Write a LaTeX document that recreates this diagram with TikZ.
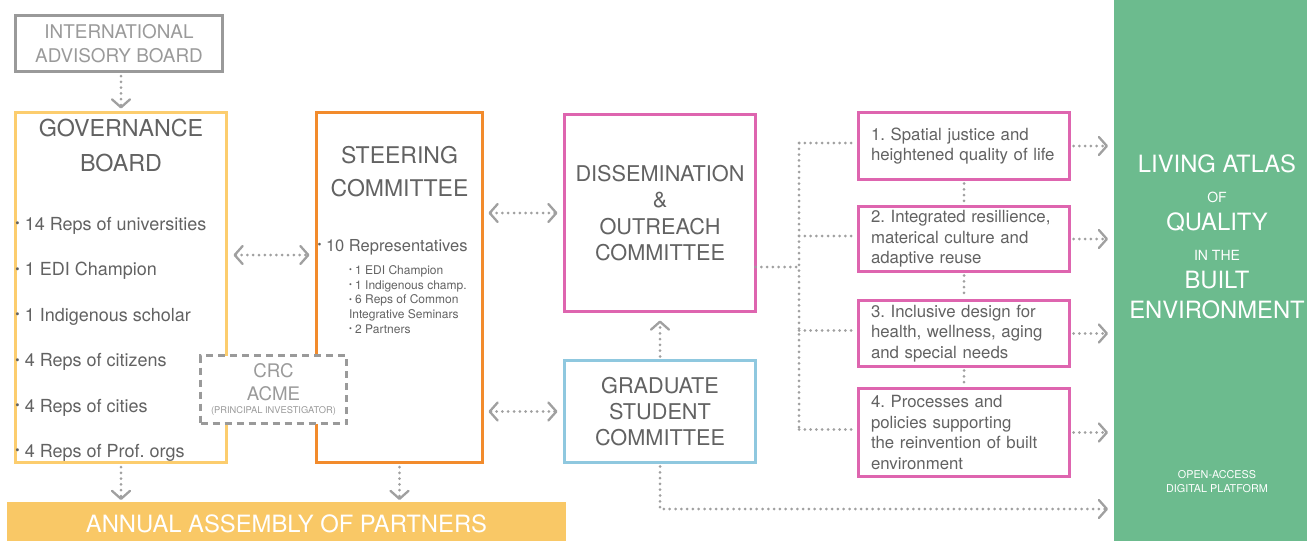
\documentclass[tikz,border=0pt]{standalone}
\usepackage{fontspec}
\setmainfont{TeX Gyre Heros}
\usetikzlibrary{arrows.meta}

\definecolor{txtgray}{HTML}{626262}
\definecolor{boardgray}{HTML}{9A9A9A}
\definecolor{dotgray}{HTML}{A0A0A0}
\definecolor{govyellow}{HTML}{FCCD6E}
\definecolor{assemblyyellow}{HTML}{F9C866}
\definecolor{steerorange}{HTML}{F28B2C}
\definecolor{dispink}{HTML}{DE65AF}
\definecolor{gradblue}{HTML}{8FC8DF}
\definecolor{atlasgreen}{HTML}{6CBB8E}

\newcommand{\fs}[2]{\fontsize{#1}{#2}\selectfont}
\newcommand{\blt}{\raisebox{.14em}{\scalebox{.68}{\textbullet}}\hspace{.28em}}
\frenchspacing

\begin{document}
\begin{tikzpicture}[x=1pt, y=-1pt]
      \tikzstyle{every node}=[outer sep=0pt, inner sep=0pt, text=txtgray]
      \tikzstyle{frame}=[draw, rectangle, line width=3pt]
      \tikzstyle{theme}=[frame, draw=dispink, text width=186pt, inner xsep=12.5pt, align=left, font=\fs{16.8}{20.5}]
      \tikzstyle{dots}=[draw=dotgray, line width=3pt, line cap=round, dash pattern=on 0pt off 5.8pt]
      \tikzset{>={Straight Barb[length=8pt, width=18pt, line width=2.3pt, round]}}
      \tikzstyle{arr}=[dots, ->]
      \tikzstyle{both}=[dots, <->, shorten <=7pt, shorten >=7pt]

      \useasboundingbox (0,0) rectangle (1307,541);

      % left column
      \path (119,43.5) node[frame, draw=boardgray, text=boardgray, minimum width=207pt, minimum height=56pt, align=center, font=\fs{18.9}{24}] (iab) {INTERNATIONAL\\ADVISORY BOARD};
      \path (121,287.5) node[frame, draw=govyellow, minimum width=211pt, minimum height=350pt] (gov) {};
      \path (399.5,287.5) node[frame, draw=steerorange, minimum width=166pt, minimum height=350pt] (steer) {};
      \path (286.5,523.5) node[fill=assemblyyellow, minimum width=559pt, minimum height=43pt, text=white, font=\fs{23.8}{24}] (aap) {ANNUAL ASSEMBLY OF PARTNERS};

      \path (121,145.5) node[align=center, font=\fs{23.3}{35}] (govtitle) {GOVERNANCE\\BOARD};
      \foreach \t [count=\i] in {14 Reps of universities, 1 EDI Champion, 1 Indigenous scholar, 4 Reps of citizens, 4 Reps of cities, 4 Reps of Prof. orgs}
      {
        \path (15.5,185.1+45.4*\i) node[anchor=base west, font=\fs{18}{18}] (gov\i) {\blt\t};
      }

      \path (399.5,171.5) node[align=center, font=\fs{23}{33}] (steertitle) {STEERING\\COMMITTEE};
      \path (317.5,251) node[anchor=base west, font=\fs{16.5}{16.5}] (steerreps) {\blt 10 Representatives};
      \path (349,299.5) node[anchor=west, align=left, font=\fs{12}{14.75}] (steersub) {\blt 1 EDI Champion\\\blt 1 Indigenous champ.\\\blt 6 Reps of Common\\Integrative Seminars\\\blt 2 Partners};

      \path (273.5,389.5) node[frame, draw=boardgray, dash pattern=on 7pt off 5pt, fill=white, text=boardgray, minimum width=146pt, minimum height=68pt, align=center, font=\fs{18.7}{23}] (crc) {CRC\\ACME\\[-10pt]{\fs{9.3}{11}(PRINCIPAL INVESTIGATOR)}};

      % committees
      \path (660,213) node[frame, draw=dispink, minimum width=191pt, minimum height=197pt, align=center, font=\fs{21.7}{26.3}] (diss) {DISSEMINATION\\\&\\OUTREACH\\COMMITTEE};
      \path (660,411.5) node[frame, draw=gradblue, minimum width=191pt, minimum height=102pt, align=center, font=\fs{21.7}{26}] (grad) {GRADUATE\\STUDENT\\COMMITTEE};

      % themes
      \path (964,146) node[theme, minimum height=67pt] (t1) {1. Spatial justice and\\heightened quality of life};
      \path (964,239) node[theme, minimum height=65pt] (t2) {2. Integrated resillience,\\materical culture and\\adaptive reuse};
      \path (964,333.5) node[theme, minimum height=66pt] (t3) {3. Inclusive design for\\health, wellness, aging\\and special needs};
      \path (964,432.5) node[theme, minimum height=88pt] (t4) {4. Processes and\\policies supporting\\the reinvention of built\\environment};

      % living atlas
      \path (1210.5,270.5) node[fill=atlasgreen, minimum width=193pt, minimum height=545pt] (atlas) {};
      \foreach \y/\s/\t [count=\i] in {164/23.8/LIVING ATLAS, 197/14/OF, 222/23.8/QUALITY, 255/14/IN THE, 280/23.8/BUILT, 310/23.8/ENVIRONMENT}
      {
        \path (1217,\y) node[text=white, font=\fs{\s}{\s}] (atl\i) {\t};
      }
      \path (1217,482) node[text=white, align=center, font=\fs{10.8}{14}] (platform) {OPEN-ACCESS\\DIGITAL PLATFORM};

      % connectors
      \draw[arr, shorten <=4.5pt, shorten >=4pt] (gov.north |- iab.south) -- (gov.north);
      \draw[arr, shorten <=4.5pt, shorten >=2pt] (gov.south) -- (gov.south |- aap.north);
      \draw[arr, shorten <=4.5pt, shorten >=2pt] (steer.south) -- (steer.south |- aap.north);
      \draw[both] (gov.east |- 0,255) -- (steer.west |- 0,255);
      \draw[both, shorten <=6pt] (steer.east |- diss.west) -- (diss.west);
      \draw[both, shorten <=6pt] (steer.east |- grad.west) -- (grad.west);
      \draw[arr, shorten <=4pt, shorten >=9pt] (grad.north) -- (diss.south);

      \coordinate (hub) at (799,267);
      \draw[dots] (diss.east |- hub) -- (hub);
      \draw[dots] (hub |- t1.west) ++(0,-3) -- ([yshift=3pt]hub |- t4.west);
      \foreach \k in {1,...,4}
      {
        \draw[dots, shorten >=3pt] ([yshift=3pt]hub |- t\k.west) -- ([yshift=3pt]t\k.west);
        \draw[arr, shorten <=4pt, shorten >=6pt] (t\k.east) -- (t\k.east -| atlas.west);
      }
      \foreach \a/\b in {1/2, 2/3, 3/4}
      {
        \draw[dots, shorten <=4pt, shorten >=3pt] (t\a.south) -- (t\b.north);
      }
      \draw[arr, shorten <=4pt, shorten >=6pt] (grad.south) |- (atlas.west |- 0,509);
    \end{tikzpicture}
\end{document}
